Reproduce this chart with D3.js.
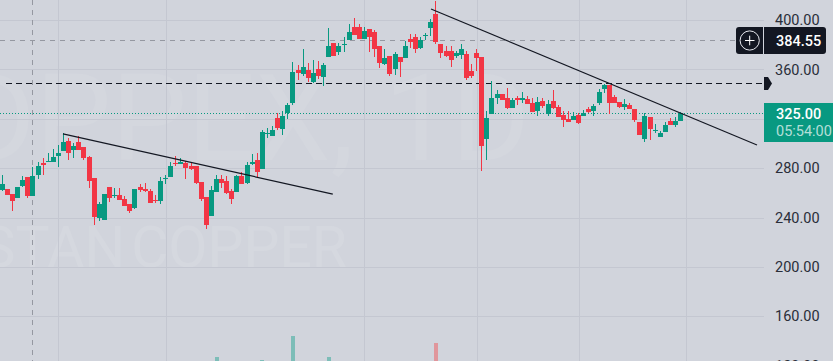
<!DOCTYPE html>
<html>
<head>
<meta charset="utf-8">
<script src="https://cdn.jsdelivr.net/npm/d3@7"></script>
<style>
  html, body { margin: 0; padding: 0; background: #d1d4dc; overflow: hidden; }
  text { font-family: Roboto, sans-serif; }
</style>
</head>
<body>
<div id="chart"></div>
<script>
// OHLC, one bar per entry
const opens = [262.3,263.1,259.1,255.8,265.5,272.8,257.4,274.5,284.2,284.7,
  285,289.8,293.9,302,294.7,301.2,297.1,289,272,239.6,
  238,264.7,257.4,258.3,255,251,247.7,264.7,263.1,261.5,
  254.2,253.4,271.2,272.8,284.2,283.4,284.2,281.7,281.7,268.8,
  256.6,241.2,260.7,271.2,269.6,261.5,260.7,273.6,268,283.4,
  286.6,279.3,307.9,306,320.4,311.7,324.4,332.8,359.5,356.3,
  359.5,349.8,360.3,353.8,370,381.4,374.1,379.8,383.8,394.3,
  394.3,384.6,392.7,390.3,378.9,364.4,370.8,360.3,370,369.2,
  384.6,386.2,377.3,387,393.5,404.9,380.6,374.9,374.9,370.8,
  371.6,372.5,358.7,373.3,370,303.6,323.9,336.8,340,336.8,
  328.7,336.8,335.2,336,332.8,326.3,334.4,323.9,334.4,329.5,
  323,319.8,319,323,322.2,327.9,326.3,332.8,344.1,347.4,
  337.6,333.6,329.5,331.2,327.9,317.4,303.6,321.4,310.1,305.2,
  309.3,318.2,314.9,318.2];
const highs = [274.4,263.1,259.1,264.7,273.6,272.8,281.2,285.3,288.5,292,
  295.5,298.8,308.2,304.2,300.1,306,297.1,289.8,272,252.6,
  259,264.7,263.9,263.9,257.4,251,263.1,267.2,268,263.1,
  258.3,272.6,274.5,285,289.8,288,285.8,285.3,281.7,268.8,
  256.6,265.5,274.5,274.5,273.6,263.1,274.5,276.9,285.3,291.5,
  292,310.9,312.5,314.1,324.4,326.3,332.8,366,363.6,376.5,
  365.2,367.6,366.8,364.9,393.5,381.4,381.4,386.2,396.8,401.6,
  396.8,394.3,392.7,391.9,378.9,376.5,370.8,374.1,370,383,
  388.7,388.7,386.2,389.5,400.8,415.4,380.6,378.9,378.9,374.9,
  380.6,374.9,364.4,376.5,370,326.3,350.6,343.3,340,344.9,
  336.8,338.4,341.7,338.4,336.8,337.6,336.8,335.2,343.3,331.2,
  326.3,326.3,325.5,324.7,327.1,329.5,332,344.1,348.2,347.4,
  339.3,333.6,336,332.8,327.9,317.4,324.7,321.4,315.8,310.1,
  317.4,320.6,321.4,325.5];
const lows = [261.5,258.3,245.6,255.8,265,256.1,257.4,271.2,274.5,284.7,
  285,281.2,293.9,286.6,288,294.7,286.6,263.7,234,237.2,
  238,252.6,255.8,254.2,249.3,243.7,246.9,260.7,261,251.8,
  251.8,251,267.2,272.8,281.7,283.4,271.2,278.5,267.2,253.4,
  230.7,241.2,260.7,263.9,259.1,251,260.7,267.2,267.2,282.6,
  273.1,279.3,304.2,306,310.9,306.9,319.8,331.1,351.4,354.6,
  349.8,348.7,352.2,346.5,370,370.8,371.6,374.1,383.8,387.9,
  384.6,384.6,374.1,370,361.1,363.6,354.6,355.4,353.8,369.2,
  377.3,373.3,376.5,383.8,387,380.6,369.2,370,361.9,369.2,
  368.4,351.4,353,358.7,277.7,286.6,323.9,332,335.2,327.9,
  328.7,331.2,332.8,332,325.5,322.2,328.7,322.2,327.9,321.4,
  313.3,317.4,319,315.8,322.2,324.7,322.2,331.2,340.9,323.9,
  332.8,328.7,327.1,327.9,317.4,306.9,301.2,302.8,308.5,305.2,
  309.3,314.9,313.3,318.2];
const closes = [267.2,258.3,253.4,264.7,270.4,257.4,273.6,281.7,282.6,285.5,
  289,292.3,301.2,292.3,297.9,294.7,288.2,269.6,240.4,251,
  259,255.8,258.3,254.2,249.3,245.3,263.1,262.3,261.5,251.8,
  253.4,269.6,272,281.7,283.4,285,280.1,279.3,268,255,
  234,262.3,271.2,268,259.9,255,273.6,267.2,282.6,285,
  276.9,309.3,308.5,310.9,312.2,322.2,330.9,357.9,357.1,362,
  353,357.1,354.6,363.6,378.9,370.8,378.9,380.6,390.3,387.9,
  384.6,391.1,386.2,376.5,365.2,369.2,356.3,372.5,366,378.9,
  382.2,376.5,383.8,387.9,398.4,382.2,373.3,370.8,367.6,373.3,
  376.5,353,354.6,369.2,297.9,320.6,336.8,340,335.2,328.7,
  335.2,335.2,336.8,332,325.5,333.6,330.3,332,328.7,321.4,
  319,317.4,322.2,316.6,324.7,325.5,330.3,341.7,347.4,332.8,
  332.8,329.5,332,327.9,319,306.9,322.2,311.7,310.9,308.5,
  314.9,314.9,318.2,325];

// only the bars tall enough to show above the bottom edge
const volumeBars = [42, 51, 57, 64, 85];
const volumes = [4, 1, 25, 4, 18];

const priceTicks = [400, 360, 320, 280, 240, 200, 160, 120];
const dateTicks = [11, 32, 71, 93, 113, 134];

// trend lines as [bar, price, bar, price]
const trendLines = [
  [11.9, 307.7, 64.8, 259],
  [84.06, 408.9, 147.98, 298.75]
];

const lastPrice = 325;
const lastLabel = "325.00";
const countdown = "05:54:00";
const crosshairPrice = 384;
const crosshairLabel = "384.55";
const crosshairBar = 5.9;
const alertPrice = 348.7;

const width = 833;
const height = 361;
const plotRight = 764;
const upColor = "#089981";
const downColor = "#f23645";

const svg = d3.select("#chart")
    .append("svg")
    .attr("width", width)
    .attr("height", height)
    .style("display", "block");

const xScale = d3.scaleLinear().domain([0, 133]).range([2.3, 680.6]);
const yScale = d3.scaleLinear().domain([400, 160]).range([20, 316.3]);
const volScale = d3.scaleLinear().domain([0, 25]).range([361, 336]);

svg.append("rect")
    .attr("width", width)
    .attr("height", height)
    .attr("fill", "#d1d4dc");

// faint symbol watermark
svg.append("text")
    .attr("x", 530)
    .attr("y", 160)
    .attr("text-anchor", "end")
    .attr("font-size", 120)
    .attr("fill", "#d4d7de")
    .text("DPPEX, 1D");
svg.append("text")
    .attr("x", 347)
    .attr("y", 267)
    .attr("text-anchor", "end")
    .attr("font-size", 57)
    .attr("word-spacing", -8)
    .attr("fill", "#d5d8df")
    .text("KAZAKHSTAN COPPER");

// grid
svg.selectAll(".hgrid")
    .data(priceTicks)
    .enter().append("line")
    .attr("class", "hgrid")
    .attr("x1", 0)
    .attr("x2", plotRight)
    .attr("y1", d => Math.round(yScale(d)) + 0.5)
    .attr("y2", d => Math.round(yScale(d)) + 0.5)
    .attr("stroke", "#c4c7d1");

svg.selectAll(".vgrid")
    .data(dateTicks)
    .enter().append("line")
    .attr("class", "vgrid")
    .attr("x1", d => Math.round(xScale(d)) + 0.5)
    .attr("x2", d => Math.round(xScale(d)) + 0.5)
    .attr("y1", 0)
    .attr("y2", height)
    .attr("stroke", "#c4c7d1");

// volume
svg.selectAll(".vol")
    .data(volumeBars)
    .enter().append("rect")
    .attr("class", "vol")
    .attr("x", d => Math.round(xScale(d)) - 2)
    .attr("y", (d, i) => volScale(volumes[i]))
    .attr("width", 4)
    .attr("height", (d, i) => height - volScale(volumes[i]))
    .attr("fill", d => closes[d] >= opens[d] ? "#7dbdb8" : "#e0969c");

// price lines
svg.append("line")
    .attr("x1", 0).attr("x2", plotRight)
    .attr("y1", Math.round(yScale(lastPrice)) + 0.5)
    .attr("y2", Math.round(yScale(lastPrice)) + 0.5)
    .attr("stroke", upColor)
    .attr("stroke-dasharray", "1 2");

svg.append("line")
    .attr("x1", 6).attr("x2", plotRight)
    .attr("y1", Math.round(yScale(alertPrice)) + 0.5)
    .attr("y2", Math.round(yScale(alertPrice)) + 0.5)
    .attr("stroke", "#131722")
    .attr("stroke-dasharray", "6 4");

// crosshair
svg.append("line")
    .attr("x1", 0).attr("x2", plotRight - 28)
    .attr("y1", Math.round(yScale(crosshairPrice)) + 0.5)
    .attr("y2", Math.round(yScale(crosshairPrice)) + 0.5)
    .attr("stroke", "#9598a1")
    .attr("stroke-dasharray", "5 5");

svg.append("line")
    .attr("x1", Math.round(xScale(crosshairBar)) + 0.5)
    .attr("x2", Math.round(xScale(crosshairBar)) + 0.5)
    .attr("y1", 0).attr("y2", height)
    .attr("stroke", "#9598a1")
    .attr("stroke-dasharray", "5 5");

// candles
const candle = svg.selectAll(".candle")
    .data(d3.range(opens.length))
    .enter().append("g")
    .attr("class", "candle")
    .attr("fill", i => closes[i] >= opens[i] ? upColor : downColor);

candle.append("rect")
    .attr("x", i => Math.round(xScale(i) - 2.5) + 2)
    .attr("y", i => Math.round(yScale(highs[i])))
    .attr("width", 1)
    .attr("height", i => Math.max(1, Math.round(yScale(lows[i])) - Math.round(yScale(highs[i]))));

candle.append("rect")
    .attr("x", i => Math.round(xScale(i) - 2.5))
    .attr("y", i => Math.round(yScale(Math.max(opens[i], closes[i]))))
    .attr("width", 5)
    .attr("height", i => Math.max(1, Math.round(yScale(Math.min(opens[i], closes[i]))) - Math.round(yScale(Math.max(opens[i], closes[i])))));

// drawn trend lines
svg.selectAll(".trend")
    .data(trendLines)
    .enter().append("line")
    .attr("class", "trend")
    .attr("x1", d => xScale(d[0]))
    .attr("y1", d => yScale(d[1]))
    .attr("x2", d => xScale(d[2]))
    .attr("y2", d => yScale(d[3]))
    .attr("stroke", "#131722")
    .attr("stroke-width", 1.2);

// price axis, 320 sits under the last price label
const yAxis = svg.append("g")
    .attr("transform", "translate(" + plotRight + ",0)")
    .call(d3.axisRight(yScale)
        .tickValues(priceTicks.filter(d => d !== 320))
        .tickFormat(d3.format(".2f"))
        .tickSize(0)
        .tickPadding(11));
yAxis.select(".domain").remove();
yAxis.selectAll("text")
    .attr("font-size", 14.5)
    .attr("fill", "#2a2e39")
    .style("font-family", "Roboto, sans-serif");

// crosshair label with the plus button
svg.append("rect")
    .attr("x", 736).attr("y", 27)
    .attr("width", 90).attr("height", 27)
    .attr("rx", 3)
    .attr("fill", "#131722");
svg.append("line")
    .attr("x1", 763.5).attr("x2", 763.5)
    .attr("y1", 27).attr("y2", 54)
    .attr("stroke", "#d1d4dc");
svg.append("circle")
    .attr("cx", 749.7).attr("cy", 40.5)
    .attr("r", 9.6)
    .attr("fill", "none")
    .attr("stroke", "#e6e8ee");
svg.append("path")
    .attr("d", "M745 40.5H754.5M749.7 35.7V45.3")
    .attr("stroke", "#ffffff");
svg.append("text")
    .attr("x", 776).attr("y", 45.5)
    .attr("font-size", 14.5)
    .attr("font-weight", 500)
    .attr("fill", "#ffffff")
    .text(crosshairLabel);

// alert flag at the end of the dashed line
svg.append("path")
    .attr("d", "M764 77H768L772 83.5L768 90H764Z")
    .attr("fill", "#131722");

// last price label
svg.append("rect")
    .attr("x", 764).attr("y", 103)
    .attr("width", 69).attr("height", 39)
    .attr("fill", upColor);
svg.append("text")
    .attr("x", 776).attr("y", 118.5)
    .attr("font-size", 14.5)
    .attr("font-weight", 500)
    .attr("fill", "#ffffff")
    .text(lastLabel);
svg.append("text")
    .attr("x", 776).attr("y", 136)
    .attr("font-size", 14.5)
    .attr("fill", "#ffffff")
    .attr("fill-opacity", 0.7)
    .text(countdown);
</script>
</body>
</html>
